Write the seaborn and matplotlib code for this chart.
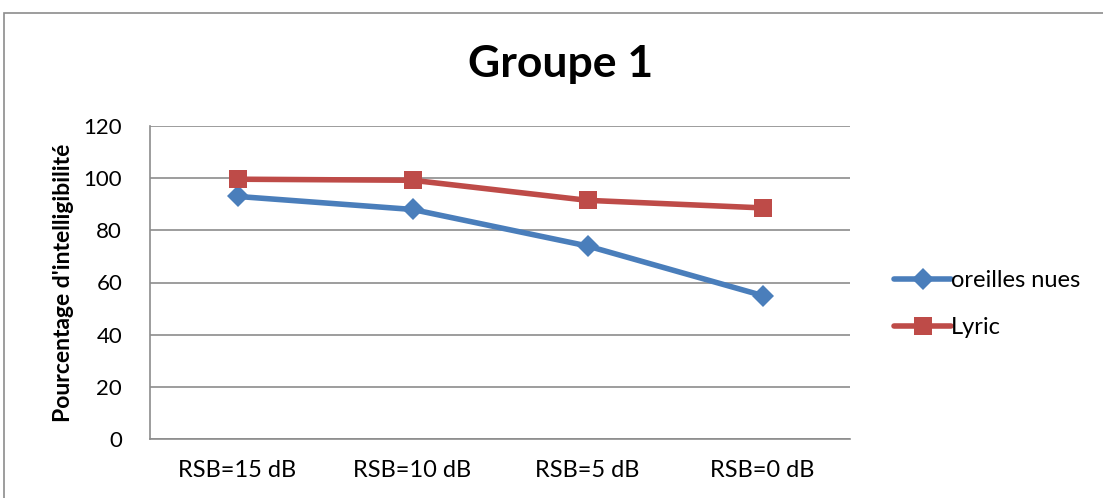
import matplotlib.pyplot as plt
import seaborn as sns
import pandas as pd

# data
conditions = ['RSB=15 dB', 'RSB=10 dB', 'RSB=5 dB', 'RSB=0 dB']
oreilles_nues = [93, 88, 74, 55]
lyric = [99.6, 99.2, 91.5, 88.6]

df = pd.DataFrame({
    'condition': conditions * 2,
    'value': oreilles_nues + lyric,
    'serie': ['oreilles nues'] * 4 + ['Lyric'] * 4,
})

sns.set_style('white')
plt.rcParams['font.family'] = ['Lato', 'DejaVu Sans']
plt.rcParams['text.color'] = 'black'
plt.rcParams['xtick.color'] = 'black'
plt.rcParams['ytick.color'] = 'black'
plt.rcParams['axes.labelcolor'] = 'black'

fig = plt.figure(figsize=(11.03, 4.98), dpi=100)
ax = fig.add_axes([150 / 1103, 1 - 439 / 498, 700 / 1103, 313 / 498])

colors = {'oreilles nues': '#4a7ebb', 'Lyric': '#be4b48'}
markers = {'oreilles nues': 'D', 'Lyric': 's'}
for name in ['oreilles nues', 'Lyric']:
    sub = df[df['serie'] == name]
    sns.lineplot(x='condition', y='value', data=sub, ax=ax, color=colors[name],
                 marker=markers[name], markersize=13 if name == 'Lyric' else 11,
                 markeredgewidth=0, linewidth=4, label=name, sort=False)

ax.set_xlim(-0.5, 3.5)
ax.set_ylim(0, 120)
ax.set_yticks(range(0, 121, 20))
ax.yaxis.grid(True, color='#8c8c8c', linewidth=1.2)
ax.set_axisbelow(True)
for s in ['top', 'right']:
    ax.spines[s].set_visible(False)
for s in ['left', 'bottom']:
    ax.spines[s].set_color('#8c8c8c')
    ax.spines[s].set_linewidth(1.2)
ax.tick_params(axis='x', length=0, pad=15, labelsize=17)
ax.tick_params(axis='y', length=0, pad=20, labelsize=16)
ax.set_xlabel('')
ax.set_ylabel("Pourcentage d'intelligibilité", fontsize=16.5, fontweight='bold', labelpad=7)

fig.suptitle('Groupe 1', x=561 / 1103, y=1 - 64 / 498, va='center',
             fontsize=32, fontweight='bold')

ax.legend(loc='center left', bbox_to_anchor=(1.05, 0.43), frameon=False, fontsize=17,
          handlelength=2.4, handletextpad=0.0, labelspacing=1.1, borderaxespad=0)

# outer chart frame
fig.add_artist(plt.Rectangle((4 / 1103, -0.1), 1.2, 1 - 13 / 498 + 0.1, fill=False,
                             edgecolor='#8c8c8c', linewidth=1.2, transform=fig.transFigure))

fig.savefig('out.png', dpi=100)
